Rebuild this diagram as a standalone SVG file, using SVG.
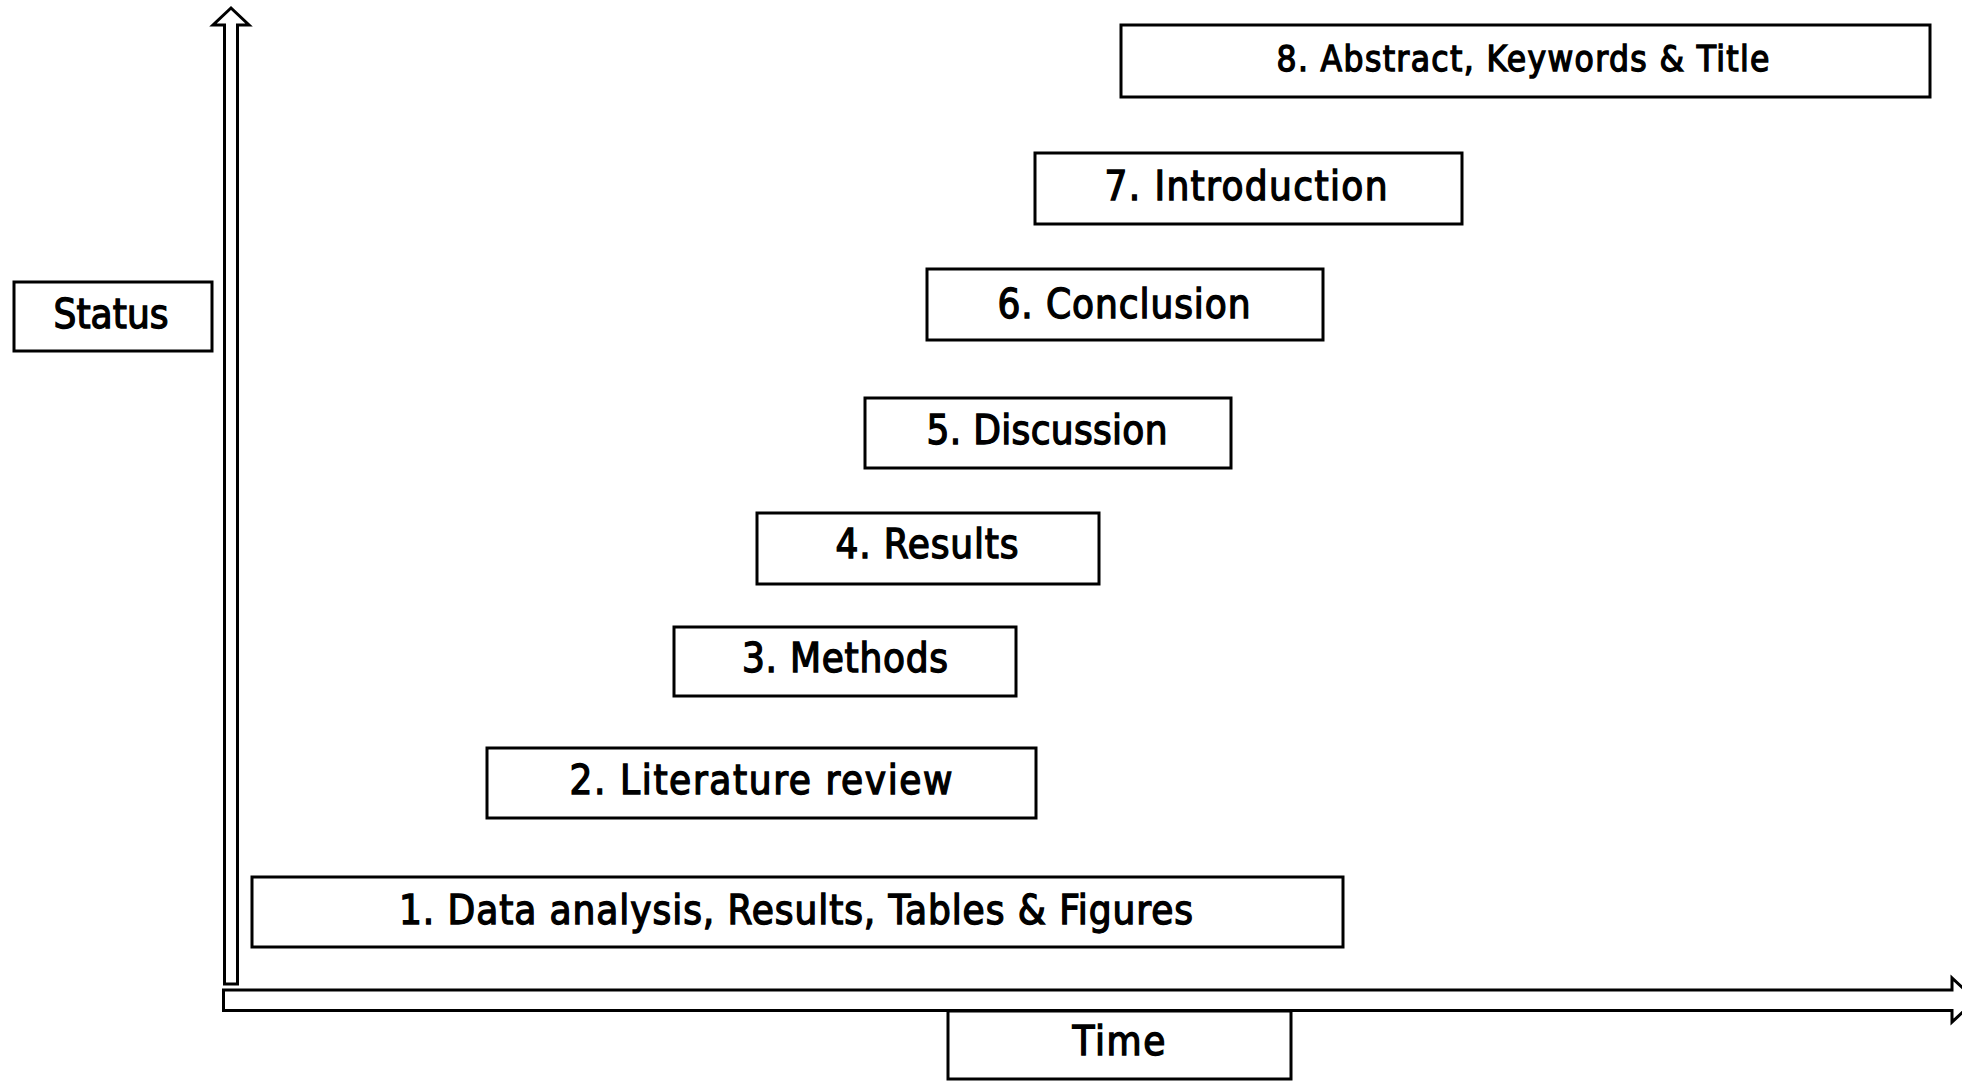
<svg xmlns="http://www.w3.org/2000/svg" width="1962" height="1081" viewBox="0 0 1962 1081">
<style>
.box{fill:#fff;stroke:#000;stroke-width:3}
.ax{fill:#fff;stroke:#000;stroke-width:3;stroke-linejoin:miter}
text{font-family:"DejaVu Sans Condensed","DejaVu Sans",sans-serif;font-size:40px;fill:#000;text-anchor:middle;stroke:#000;stroke-width:1.3}
</style>
<rect width="1962" height="1081" fill="#fff"/>
<g id="connectors">
<path class="ax" d="M224.5,984 L224.5,25 L213,25 L231,8 L249,25 L237.5,25 L237.5,984 Z"/>
<path class="ax" d="M223.5,990 L1952,990 L1952,978 L1976,1000 L1952,1022 L1952,1010.5 L223.5,1010.5 Z"/>
</g>
<g id="status"><rect class="box" x="14" y="282" width="198" height="69"/><text x="111" y="328" textLength="115">Status</text></g>
<g id="time"><rect class="box" x="948" y="1011" width="343" height="68"/><text x="1119" y="1055" textLength="93">Time</text></g>
<g id="n1"><rect class="box" x="252" y="877" width="1091" height="70"/><text x="796" y="924" textLength="794">1. Data analysis, Results, Tables &amp; Figures</text></g>
<g id="n2"><rect class="box" x="487" y="748" width="549" height="70"/><text x="761" y="794" textLength="383">2. Literature review</text></g>
<g id="n3"><rect class="box" x="674" y="627" width="342" height="69"/><text x="845" y="672" textLength="206">3. Methods</text></g>
<g id="n4"><rect class="box" x="757" y="513" width="342" height="71"/><text x="927" y="558" textLength="183">4. Results</text></g>
<g id="n5"><rect class="box" x="865" y="398" width="366" height="70"/><text x="1047" y="444" textLength="241">5. Discussion</text></g>
<g id="n6"><rect class="box" x="927" y="269" width="396" height="71"/><text x="1124" y="318" textLength="253">6. Conclusion</text></g>
<g id="n7"><rect class="box" x="1035" y="153" width="427" height="71"/><text x="1246" y="200" textLength="283">7. Introduction</text></g>
<g id="n8"><rect class="box" x="1121" y="25" width="809" height="72"/><text x="1523" y="71" style="font-size:35px" textLength="493">8. Abstract, Keywords &amp; Title</text></g>
</svg>
